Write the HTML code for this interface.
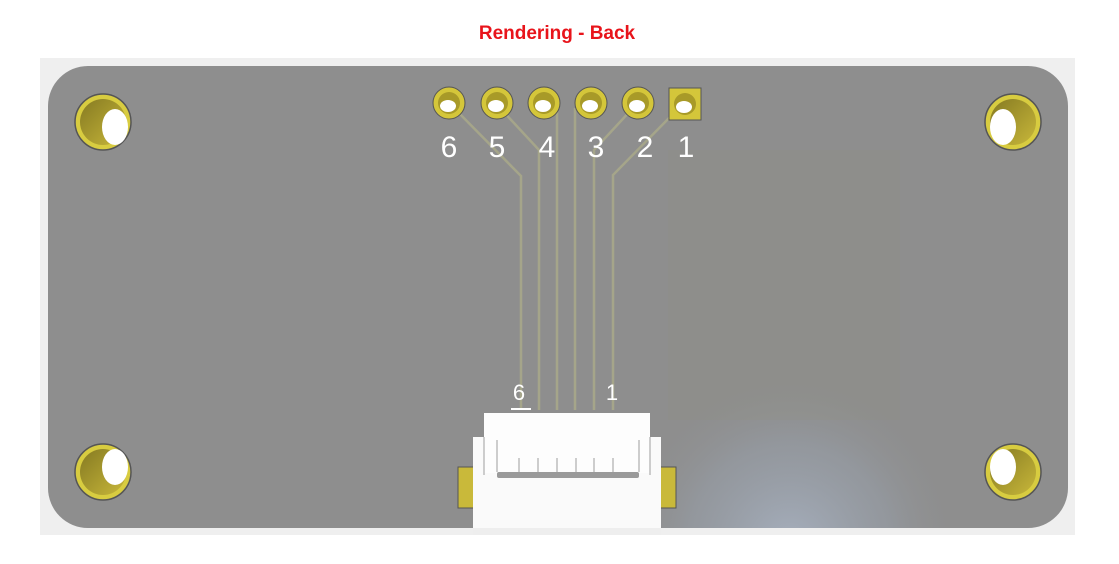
<!DOCTYPE html>
<html><head><style>
body{margin:0;width:1119px;height:559px;background:#fff;overflow:hidden;font-family:"Liberation Sans",sans-serif}
</style></head><body>
<svg width="1119" height="559" xmlns="http://www.w3.org/2000/svg">
<defs>
<radialGradient id="glow" cx="790" cy="545" r="170" gradientUnits="userSpaceOnUse">
<stop offset="0" stop-color="#a6afbd"/><stop offset="0.6" stop-color="#98a0ab" stop-opacity="0.5"/><stop offset="1" stop-color="#8e8e8e" stop-opacity="0"/></radialGradient>
<linearGradient id="barrel" x1="0" y1="0" x2="1" y2="1"><stop offset="0" stop-color="#857a22"/><stop offset="1" stop-color="#c8b73a"/></linearGradient>
</defs>
<text x="557" y="39" text-anchor="middle" font-size="19" font-weight="bold" fill="#e8141b">Rendering - Back</text>
<rect x="40" y="58" width="1035" height="477" fill="#efefef"/>
<rect x="48" y="66" width="1020" height="462" rx="40" fill="#8e8e8e"/>
<rect x="48" y="66" width="1020" height="462" rx="40" fill="url(#glow)"/>
<polygon points="668,150 900,150 900,420 668,420" fill="#939383" opacity="0.2"/>
<g fill="none" stroke="#a5a58a" stroke-width="2.5">
<polyline points="452,106 521,176 521,410"/>
<polyline points="500,108 539,150 539,410"/>
<polyline points="557,108 557,410"/>
<polyline points="575,108 575,410"/>
<polyline points="633,108 594,150 594,410"/>
<polyline points="672,115 613,175 613,410"/>
</g>
<g>
<g stroke="#555" stroke-width="1">
<circle cx="449" cy="103" r="16" fill="#d4c63a"/>
<circle cx="497" cy="103" r="16" fill="#d4c63a"/>
<circle cx="544" cy="103" r="16" fill="#d4c63a"/>
<circle cx="591" cy="103" r="16" fill="#d4c63a"/>
<circle cx="638" cy="103" r="16" fill="#d4c63a"/>
<rect x="669" y="88" width="32" height="32" fill="#d4c63a"/>
</g>
<g fill="#a89a28"><circle cx="449" cy="103" r="11"/><circle cx="497" cy="103" r="11"/><circle cx="544" cy="103" r="11"/><circle cx="591" cy="103" r="11"/><circle cx="638" cy="103" r="11"/><circle cx="685" cy="104" r="11"/></g>
<g fill="#fff"><ellipse cx="448" cy="106" rx="8" ry="6"/><ellipse cx="496" cy="106" rx="8" ry="6"/><ellipse cx="543" cy="106" rx="8" ry="6"/><ellipse cx="590" cy="106" rx="8" ry="6"/><ellipse cx="637" cy="106" rx="8" ry="6"/><ellipse cx="684" cy="107" rx="8" ry="6"/></g>
</g>
<g fill="#fff" font-size="30" text-anchor="middle">
<text x="449" y="157">6</text><text x="497" y="157">5</text><text x="547" y="157">4</text><text x="596" y="157">3</text><text x="645" y="157">2</text><text x="686" y="157">1</text>
<text x="519" y="400" font-size="22">6</text><text x="612" y="400" font-size="22">1</text>
</g>
<rect x="511" y="408" width="20" height="2" fill="#fff"/>
<g stroke="#555" stroke-width="1.5">
<circle cx="103" cy="122" r="28" fill="#d8cc40"/><circle cx="1013" cy="122" r="28" fill="#d8cc40"/>
<circle cx="103" cy="472" r="28" fill="#d8cc40"/><circle cx="1013" cy="472" r="28" fill="#d8cc40"/>
</g>
<g fill="url(#barrel)"><circle cx="103" cy="122" r="23"/><circle cx="1013" cy="122" r="23"/><circle cx="103" cy="472" r="23"/><circle cx="1013" cy="472" r="23"/></g>
<g fill="#fff"><ellipse cx="115" cy="127" rx="13" ry="18"/><ellipse cx="1003" cy="127" rx="13" ry="18"/><ellipse cx="115" cy="467" rx="13" ry="18"/><ellipse cx="1003" cy="467" rx="13" ry="18"/></g>
<rect x="458" y="467" width="26" height="41" fill="#c9b93a" stroke="#555"/>
<rect x="650" y="467" width="26" height="41" fill="#c9b93a" stroke="#555"/>
<rect x="473" y="437" width="188" height="98" fill="#fafafa"/>
<rect x="484" y="413" width="166" height="60" fill="#fdfdfd"/>
<rect x="497" y="472" width="142" height="6" fill="#9a9a9a" rx="2"/>
<g stroke="#bdbdbd" stroke-width="1.5">
<line x1="497" y1="440" x2="497" y2="472"/><line x1="639" y1="440" x2="639" y2="472"/>
<line x1="519" y1="458" x2="519" y2="472"/><line x1="538" y1="458" x2="538" y2="472"/><line x1="557" y1="458" x2="557" y2="472"/><line x1="576" y1="458" x2="576" y2="472"/><line x1="594" y1="458" x2="594" y2="472"/><line x1="613" y1="458" x2="613" y2="472"/>
<line x1="484" y1="437" x2="484" y2="475"/><line x1="650" y1="437" x2="650" y2="475"/>
</g>
<rect x="473" y="528" width="188" height="7" fill="#eee"/>
</svg>
</body></html>
